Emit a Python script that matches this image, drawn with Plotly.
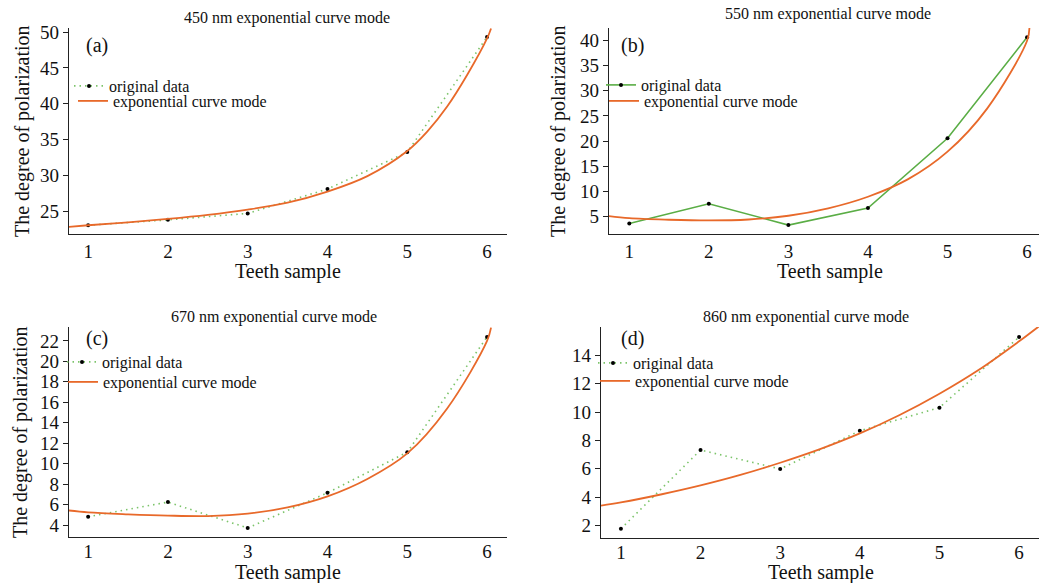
import plotly.graph_objects as go

W, H = 1039, 583

# ---------------- data ----------------
samples = [1, 2, 3, 4, 5, 6]

orig_450 = [23.05, 23.8, 24.7, 28.1, 33.25, 49.3]
orig_550 = [3.67, 7.57, 3.34, 6.71, 20.56, 40.6]
orig_670 = [4.81, 6.24, 3.71, 7.15, 11.12, 22.39]
orig_860 = [1.76, 7.32, 5.98, 8.68, 10.31, 15.29]

curve_x_450 = [0.75, 1, 1.5, 2, 2.5, 3, 3.5, 4, 4.5, 5, 5.25, 5.5, 5.75, 6, 6.05]
curve_y_450 = [22.82, 23.05, 23.45, 23.93, 24.5, 25.23, 26.2, 27.74, 29.9, 33.4, 36.1, 39.6, 44.0, 49.1, 50.5]

curve_x_550 = [0.745, 1, 1.5, 2, 2.5, 3, 3.5, 4, 4.5, 5, 5.5, 6, 6.03]
curve_y_550 = [5.12, 4.7, 4.4, 4.26, 4.45, 5.19, 6.66, 8.96, 12.4, 17.9, 26.5, 39.9, 42.5]

curve_x_670 = [0.75, 1, 1.5, 2, 2.5, 3, 3.5, 4, 4.5, 5, 5.5, 6, 6.05]
curve_y_670 = [5.43, 5.24, 5.05, 4.92, 4.88, 5.11, 5.72, 6.8, 8.5, 11.0, 15.4, 22.0, 23.3]

curve_x_860 = [0.75, 1, 1.5, 2, 2.5, 3, 3.5, 4, 4.5, 5, 5.5, 6, 6.25]
curve_y_860 = [3.39, 3.62, 4.18, 4.82, 5.56, 6.42, 7.38, 8.49, 9.79, 11.29, 13.0, 14.99, 16.05]

titles = ["450 nm exponential curve mode", "550 nm exponential curve mode",
          "670 nm exponential curve mode", "860 nm exponential curve mode"]
labels = ["(a)", "(b)", "(c)", "(d)"]
y_ticks_450 = [25, 30, 35, 40, 45, 50]
y_ticks_550 = [5, 10, 15, 20, 25, 30, 35, 40]
y_ticks_670 = [4, 6, 8, 10, 12, 14, 16, 18, 20, 22]
y_ticks_860 = [2, 4, 6, 8, 10, 12, 14]
x_title = "Teeth sample"
y_title = "The degree of polarization"
name_orig = "original data"
name_curve = "exponential curve mode"

# ---------------- style / layout ----------------
FONT = "Liberation Serif, Times New Roman, serif"
GREEN = "#5aad45"
GREEN_DOT = "#7cc46a"
ORANGE = "#e8692a"
AXC = "#222222"
DOTTED = "1.5px,4px"

def px(x):
    return x / W

def py(y):
    return 1 - y / H

panels = [
    dict(orig=orig_450, cx=curve_x_450, cy=curve_y_450, dash=DOTTED, lc=GREEN_DOT,
         xr=[0.76, 6.25], yr=[21.83, 50.56], ticks=y_ticks_450, xstand=0,
         box=(69, 507, 28, 234), title_xy=(287, 18), lab_xy=(97, 45),
         xt_xy=(288, 271), yt_xy=(22, 131), leg1=(109, 86), leg2=(113, 101)),
    dict(orig=orig_550, cx=curve_x_550, cy=curve_y_550, dash="solid", lc=GREEN,
         xr=[0.745, 6.15], yr=[1.57, 42.44], ticks=y_ticks_550, xstand=0,
         box=(609, 1039, 28, 234), title_xy=(828, 14), lab_xy=(632, 45),
         xt_xy=(830, 271), yt_xy=(558, 131), leg1=(641, 85), leg2=(644, 101)),
    dict(orig=orig_670, cx=curve_x_670, cy=curve_y_670, dash=DOTTED, lc=GREEN_DOT,
         xr=[0.76, 6.25], yr=[2.83, 23.36], ticks=y_ticks_670, xstand=-3,
         box=(69, 507, 327, 537), title_xy=(274, 317), lab_xy=(97, 338),
         xt_xy=(288, 572), yt_xy=(20, 432), leg1=(102, 362), leg2=(103, 382)),
    dict(orig=orig_860, cx=curve_x_860, cy=curve_y_860, dash=DOTTED, lc=GREEN_DOT,
         xr=[0.75, 6.25], yr=[1.11, 16.0], ticks=y_ticks_860, xstand=-3,
         box=(601, 1039, 327, 538), title_xy=(806, 317), lab_xy=(632, 338),
         xt_xy=(821, 572), yt_xy=None, leg1=(633, 363), leg2=(635, 381)),
]

fig = go.Figure()
layout = dict(width=W, height=H, margin=dict(l=0, r=0, t=0, b=0),
              paper_bgcolor="white", plot_bgcolor="white", showlegend=True,
              font=dict(family=FONT, color="#111111"), annotations=[])

def legend_box(text_x, row_y):
    return dict(visible=True, x=px(text_x - 40), y=py(row_y), xanchor="left",
                yanchor="middle", xref="paper", yref="paper",
                bgcolor="rgba(0,0,0,0)", font=dict(size=16, family=FONT),
                itemclick=False, itemdoubleclick=False)

for i, p in enumerate(panels):
    k = "" if i == 0 else str(i + 1)
    leg_a = "legend" + ("" if i == 0 else str(2 * i + 1))
    leg_b = "legend" + str(2 * i + 2)
    fig.add_trace(go.Scatter(
        x=samples, y=p["orig"], mode="lines+markers", name=name_orig,
        line=dict(color=p["lc"], width=1.6, dash=p["dash"]),
        marker=dict(color="black", size=4), showlegend=True,
        xaxis="x" + k, yaxis="y" + k, legend=leg_a))
    fig.add_trace(go.Scatter(
        x=p["cx"], y=p["cy"], mode="lines", name=name_curve,
        line=dict(color=ORANGE, width=1.8, shape="spline", smoothing=1.0),
        showlegend=True, xaxis="x" + k, yaxis="y" + k, legend=leg_b))
    x0, x1, y0, y1 = p["box"]
    layout["xaxis" + k] = dict(
        domain=[px(x0), px(x1)], range=p["xr"], anchor="y" + k,
        tickvals=samples, ticks="", showline=True, linecolor=AXC, linewidth=1.3,
        showgrid=False, zeroline=False, tickfont=dict(size=19, family=FONT),
        ticklabelstandoff=p["xstand"], automargin=False, fixedrange=True)
    layout["yaxis" + k] = dict(
        domain=[py(y1), py(y0)], range=p["yr"], anchor="x" + k,
        tickvals=p["ticks"], ticks="outside", ticklen=5, tickcolor=AXC,
        showline=True, linecolor=AXC, linewidth=1.3, showgrid=False,
        zeroline=False, tickfont=dict(size=19, family=FONT), automargin=False,
        fixedrange=True)
    layout[leg_a] = legend_box(*p["leg1"])
    layout[leg_b] = legend_box(*p["leg2"])
    tx, ty = p["title_xy"]
    layout["annotations"].append(dict(
        text=titles[i], x=px(tx), y=py(ty), xref="paper", yref="paper",
        showarrow=False, xanchor="center", yanchor="middle",
        font=dict(size=16, family=FONT)))
    ax_, ay_ = p["lab_xy"]
    layout["annotations"].append(dict(
        text=labels[i], x=px(ax_), y=py(ay_), xref="paper", yref="paper",
        showarrow=False, xanchor="center", yanchor="middle",
        font=dict(size=20, family=FONT)))
    xx, xy = p["xt_xy"]
    layout["annotations"].append(dict(
        text=x_title, x=px(xx), y=py(xy), xref="paper", yref="paper",
        showarrow=False, xanchor="center", yanchor="middle",
        font=dict(size=20, family=FONT)))
    if p["yt_xy"] is not None:
        yx, yy = p["yt_xy"]
        layout["annotations"].append(dict(
            text=y_title, x=px(yx), y=py(yy), xref="paper", yref="paper",
            showarrow=False, xanchor="center", yanchor="middle", textangle=-90,
            font=dict(size=20, family=FONT)))

fig.update_layout(**layout)
fig.write_html("out.html", config={"displayModeBar": False},
               post_script="document.body.style.margin='0';document.body.style.overflow='hidden';")
